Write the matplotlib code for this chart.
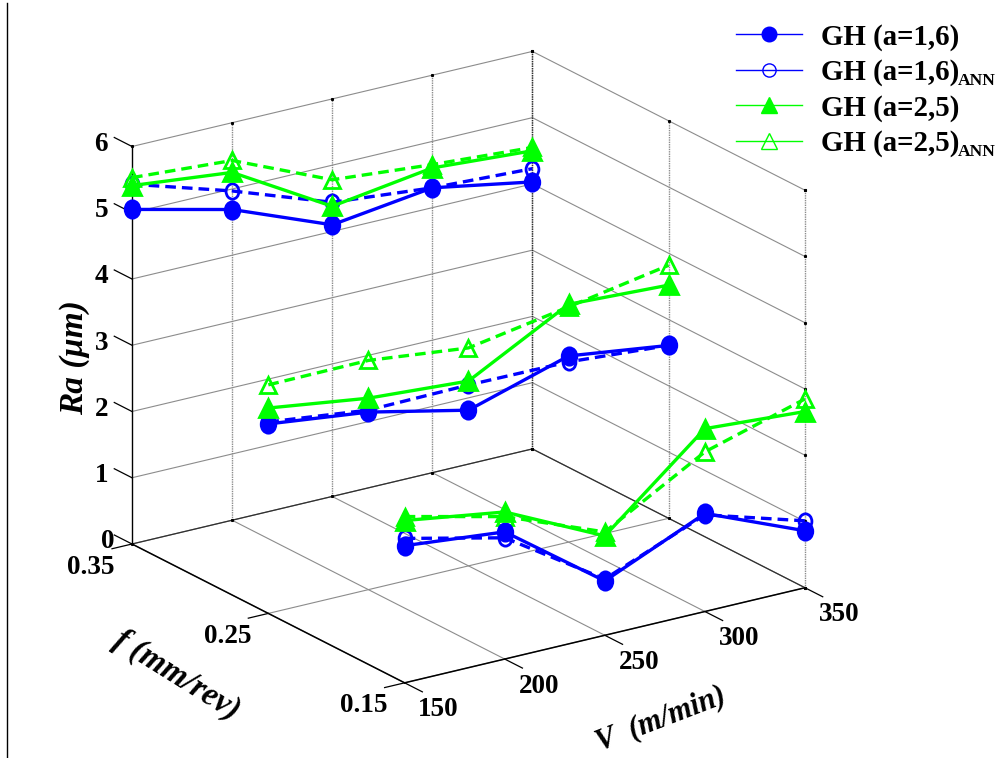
import matplotlib
matplotlib.use('Agg')
import matplotlib.pyplot as plt
from matplotlib.lines import Line2D
from matplotlib.path import Path
from matplotlib.transforms import Affine2D
from mpl_toolkits.mplot3d import proj3d

W, H = 1003, 758

plt.rcParams['font.family'] = ['Liberation Serif', 'DejaVu Serif']
plt.rcParams['font.weight'] = 'bold'

# axis values
v_vals = [150, 200, 250, 300, 350]
f_vals = [0.35, 0.25, 0.15]
z_vals = [0, 1, 2, 3, 4, 5, 6]
f_labels = ['0.35', '0.25', '0.15']

# Ra, one list per feed (f=0.35, 0.25, 0.15)
gh16 = [[5.05, 4.69, 4.10, 4.30, 4.03],
        [2.86, 2.68, 2.35, 2.81, 2.61],
        [2.07, 1.92, 0.82, 1.48, 0.86]]
gh16_ann = [[5.43, 4.97, 4.44, 4.30, 4.23],
            [2.89, 2.71, 2.73, 2.72, 2.61],
            [2.18, 1.83, 0.85, 1.46, 1.01]]
gh25 = [[5.41, 5.25, 4.38, 4.60, 4.50],
        [3.10, 2.89, 2.79, 3.59, 3.52],
        [2.45, 2.22, 1.50, 2.76, 2.66]]
gh25_ann = [[5.53, 5.43, 4.78, 4.65, 4.55],
            [3.45, 3.46, 3.29, 3.55, 3.82],
            [2.51, 2.15, 1.56, 2.41, 2.85]]

BLUE = '#0000ff'
GREEN = '#00ff00'

# the circles are a bit taller than wide in the original
tall_circle = Path.unit_circle().transformed(Affine2D().scale(0.84, 1.0))

fig = plt.figure(figsize=(W / 100, H / 100), dpi=100)


def set_rect(ax, cx, cy, size):
    ax.set_position([(cx - size / 2) / W, (cy - size / 2) / H, size / W, size / H])


ax = fig.add_axes([0, 0, 1, 1], projection='3d', computed_zorder=False)
ax.set_proj_type('ortho')
ax.view_init(elev=20.35, azim=-124.33)
ax.set_box_aspect((484.4, 483, 423.6))
ax.set_xlim(150, 350, view_margin=0)
ax.set_ylim(0.15, 0.35, view_margin=0)
ax.set_zlim(0, 6, view_margin=0)
ax.set_xticks(v_vals)
ax.set_yticks(f_vals)
ax.set_zticks(z_vals)
ax.set_axis_off()


def to_px(x, y, z):
    x2, y2, _ = proj3d.proj_transform(x, y, z, ax.get_proj())
    ax.apply_aspect()
    return ax.transData.transform((x2, y2))


# fit the box on the picture: left and right floor corners
cx, cy, size = 500, 380, 700
set_rect(ax, cx, cy, size)
left = to_px(150, 0.35, 0)
right = to_px(350, 0.15, 0)
k = (805 - 132) / (right[0] - left[0])
cx2 = 132 - (left[0] - cx) * k
cy2 = (H - 544) - (left[1] - cy) * k
set_rect(ax, cx2, cy2, size * k)

# grid
grid_c = '#8c8c8c'
for v in v_vals:
    ax.plot([v, v], [0.15, 0.35], [0, 0], color=grid_c, lw=0.8, zorder=1)
    if v > 150:
        ax.plot([v, v], [0.35, 0.35], [0, 6], color=grid_c, lw=1.0, ls=(0, (1, 0.7)), zorder=1)
for f in f_vals:
    ax.plot([150, 350], [f, f], [0, 0], color=grid_c, lw=0.8, zorder=1)
    if f < 0.35:
        ax.plot([350, 350], [f, f], [0, 6], color=grid_c, lw=1.0, ls=(0, (1, 0.7)), zorder=1)
for z in z_vals[1:]:
    ax.plot([150, 350], [0.35, 0.35], [z, z], color=grid_c, lw=0.8, zorder=1)
    ax.plot([350, 350], [0.35, 0.15], [z, z], color=grid_c, lw=0.8, zorder=1)

# box lines and ticks
ax.plot([150, 150], [0.35, 0.15], [0, 0], color='k', lw=1.1, zorder=2)
ax.plot([150, 350], [0.15, 0.15], [0, 0], color='k', lw=1.1, zorder=2)
ax.plot([150, 350], [0.35, 0.35], [0, 0], color='#303030', lw=0.9, zorder=2)
ax.plot([350, 350], [0.35, 0.15], [0, 0], color='#303030', lw=0.9, zorder=2)
ax.plot([150, 150], [0.35, 0.35], [0, 6], color='k', lw=1.0, zorder=2)
ax.plot([350, 350], [0.35, 0.35], [0, 6], color='#303030', lw=1.0, ls=(0, (1, 0.7)), zorder=2)
for v in v_vals:
    ax.plot([v, v], [0.15, 0.137], [0, 0], color='k', lw=0.9, zorder=2)
    ax.plot([v], [0.35], [6], color='k', marker='s', ms=1.2, zorder=2)
    ax.plot([v], [0.35], [0], color='k', marker='s', ms=1.2, zorder=2)
for f in f_vals:
    ax.plot([150, 140], [f, f], [0, 0], color='k', lw=0.9, zorder=2)
    ax.plot([350], [f], [6], color='k', marker='s', ms=1.2, zorder=2)
    ax.plot([350], [f], [0], color='k', marker='s', ms=1.2, zorder=2)
for z in z_vals:
    ax.plot([150, 150], [0.35, 0.363], [z, z], color='k', lw=0.9, zorder=2)
    ax.plot([350], [0.15], [z], color='k', marker='s', ms=1.2, zorder=2)


def plot_rows(rows, color, marker, ms, mfc, ls, zo):
    for f, row in zip(f_vals, rows):
        ax.plot(v_vals, [f] * len(v_vals), row, color=color, lw=2.4, ls=ls, marker=marker,
                ms=ms, mfc=mfc, mec=color, mew=2.0, zorder=zo, clip_on=False)


dash = (0, (3.2, 1.8))
plot_rows(gh16_ann, BLUE, tall_circle, 11, 'none', dash, 5)
plot_rows(gh25_ann, GREEN, '^', 12, 'none', dash, 6)
plot_rows(gh16, BLUE, tall_circle, 12.5, BLUE, '-', 7)
plot_rows(gh25, GREEN, '^', 13, GREEN, '-', 8)


def label3d(x, y, z, text, dx, dy, ha):
    x2, y2, _ = proj3d.proj_transform(x, y, z, ax.get_proj())
    ax.annotate(text, (x2, y2), xytext=(dx, dy), textcoords='offset pixels', ha=ha,
                va='center', fontsize=19.5, fontweight='bold', annotation_clip=False)


for z in z_vals:
    label3d(150, 0.35, z, str(z), -17 if z == 0 else -24, 2, 'right')
for f, lab in zip(f_vals, f_labels):
    label3d(150, f, 0, lab, -17, -23, 'right')
for v in v_vals:
    label3d(v, 0.15, 0, str(v), 34, -27, 'center')

# axis titles
fig.text(75 / W, 1 - 358 / H, 'Ra (µm)', rotation=90, ha='center', va='center',
         fontsize=24, style='italic', fontweight='bold')
fig.text(177 / W, 1 - 675 / H, 'f (mm/rev)', rotation=-32, ha='center', va='center',
         fontsize=23.5, style='italic', fontweight='bold')
fig.text(661 / W, 1 - 719 / H, 'V  (m/min)', rotation=21, ha='center', va='center',
         fontsize=22, style='italic', fontweight='bold')

# legend
handles = [
    Line2D([], [], color=BLUE, lw=1, marker='o', ms=10.5, mfc=BLUE, mec=BLUE),
    Line2D([], [], color=BLUE, lw=1, marker='o', ms=9.5, mfc='none', mec=BLUE),
    Line2D([], [], color=GREEN, lw=1, marker='^', ms=12, mfc=GREEN, mec=GREEN),
    Line2D([], [], color=GREEN, lw=1, marker='^', ms=12, mfc='none', mec=GREEN),
]
labels = ['GH (a=1,6)', 'GH (a=1,6)', 'GH (a=2,5)', 'GH (a=2,5)']
fig.legend(handles, labels, loc='upper left', bbox_to_anchor=(736 / W, 1 - 23.5 / H), frameon=False,
           fontsize=20.8, handlelength=2.28, handletextpad=0.66, labelspacing=0.28,
           borderpad=0, borderaxespad=0)
# ANN subscript, mathtext makes it too wide for the page
fig.text(958 / W, 1 - 81 / H, 'ANN', fontsize=12.6, fontweight='bold', va='center')
fig.text(958 / W, 1 - 152 / H, 'ANN', fontsize=12.6, fontweight='bold', va='center')

# stray rule at the left edge of the page
fig.add_artist(Line2D([7.5 / W, 7.5 / W], [0, 1 - 3 / H], color='k', lw=1.0))

fig.savefig('out.png', dpi=100)
